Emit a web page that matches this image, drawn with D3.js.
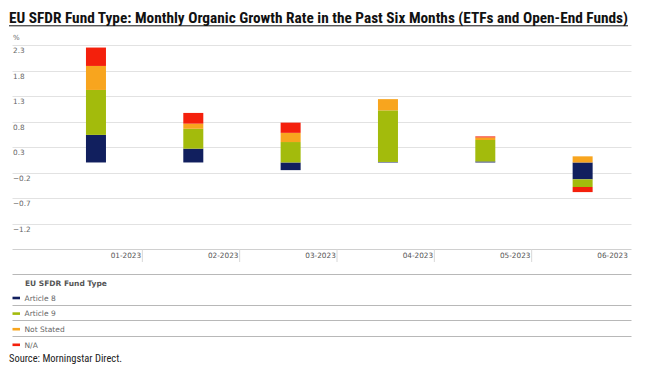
<!DOCTYPE html>
<html>
<head>
<meta charset="utf-8">
<script src="https://cdn.jsdelivr.net/npm/d3@7"></script>
<style>
  html, body { margin: 0; padding: 0; background: #fff; }
  svg { display: block; }
</style>
</head>
<body>
<svg id="chart"></svg>
<script>
// data
const months = ['01-2023', '02-2023', '03-2023', '04-2023', '05-2023', '06-2023'];
const seriesNames = ['Article 8', 'Article 9', 'Not Stated', 'N/A'];
const article8 = [0.54, 0.27, -0.15, 0.01, 0.02, -0.33];
const article9 = [0.88, 0.39, 0.40, 1.01, 0.42, -0.15];
const notStated = [0.47, 0.10, 0.18, 0.22, 0.05, 0.12];
const notAvail = [0.36, 0.21, 0.20, 0.00, 0.02, -0.10];
const yTicks = [2.3, 1.8, 1.3, 0.8, 0.3, -0.2, -0.7, -1.2];

const colors = ['#111f5e', '#a3bb0c', '#f8a51e', '#f4200c'];
const W = 648, H = 375;
const svg = d3.select('#chart').attr('width', W).attr('height', H);

const rows = months.map((m, i) => ({
  month: m,
  'Article 8': article8[i],
  'Article 9': article9[i],
  'Not Stated': notStated[i],
  'N/A': notAvail[i]
}));

const gridL = 12.5, gridR = 631.5;
const x = d3.scaleBand().domain(months).range([47.3, 631.3]);
const y = d3.scaleLinear().domain([-1.7, 2.3]).range([249.3, 45]);
const barW = 20;

// title
svg.append('text')
  .attr('x', 9).attr('y', 23)
  .attr('textLength', 619).attr('lengthAdjust', 'spacingAndGlyphs')
  .style('font-family', '"Liberation Sans Narrow","Roboto Condensed","DejaVu Sans Condensed",sans-serif')
  .style('font-weight', 'bold').style('font-size', '14px').style('fill', '#111')
  .text('EU SFDR Fund Type: Monthly Organic Growth Rate in the Past Six Months (ETFs and Open-End Funds)');
svg.append('line').attr('x1', 9).attr('x2', 628).attr('y1', 25.8).attr('y2', 25.8)
  .attr('stroke', '#111').attr('stroke-width', 1);

// % unit
svg.append('text').attr('x', 13).attr('y', 39.5)
  .style('font-family', '"DejaVu Sans",sans-serif').style('font-size', '7px').style('fill', '#666')
  .text('%');

// grid + y labels
const grid = svg.append('g');
yTicks.forEach(t => {
  grid.append('line').attr('x1', gridL).attr('x2', gridR)
    .attr('y1', Math.round(y(t)) + 0.5).attr('y2', Math.round(y(t)) + 0.5)
    .attr('stroke', '#e2e2e2');
  grid.append('text').attr('x', 13).attr('y', y(t) + 8)
    .style('font-family', '"DejaVu Sans",sans-serif').style('font-size', '7.3px').style('fill', '#666')
    .text(d3.format('.1f')(t));
});

// bars
const stack = d3.stack().keys(seriesNames).offset(d3.stackOffsetDiverging);
const layers = stack(rows);
svg.append('g').selectAll('g').data(layers).join('g')
  .attr('fill', (d, i) => colors[i])
  .selectAll('rect').data(d => d).join('rect')
  .attr('x', d => x(d.data.month) + x.bandwidth() / 2 - barW / 2)
  .attr('width', barW)
  .attr('y', d => y(Math.max(d[0], d[1])))
  .attr('height', d => Math.abs(y(d[0]) - y(d[1])));

// x axis
svg.append('line').attr('x1', gridL).attr('x2', gridR).attr('y1', 249.5).attr('y2', 249.5)
  .attr('stroke', '#d0d0d0');
months.forEach(m => {
  const r = x(m) + x.bandwidth();
  if (m !== months[months.length - 1]) {
    svg.append('line').attr('x1', r - 2.3).attr('x2', r - 2.3).attr('y1', 249.5).attr('y2', 262)
      .attr('stroke', '#d8d8d8');
  }
  svg.append('text').attr('x', r - 3.5).attr('y', 258)
    .attr('text-anchor', 'end')
    .style('font-family', '"DejaVu Sans",sans-serif').style('font-size', '7.3px').style('fill', '#555')
    .text(m);
});

// legend
svg.append('line').attr('x1', gridL).attr('x2', gridR).attr('y1', 274.5).attr('y2', 274.5)
  .attr('stroke', '#b8b8b8');
svg.append('text').attr('x', 25).attr('y', 286)
  .style('font-family', '"DejaVu Sans",sans-serif').style('font-weight', 'bold')
  .style('font-size', '7.5px').style('fill', '#555')
  .text('EU SFDR Fund Type');
seriesNames.forEach((s, i) => {
  const cy = 298 + i * 15.6;
  svg.append('rect').attr('x', 12.5).attr('y', cy - 1.3).attr('width', 7.5).attr('height', 2.6)
    .attr('fill', colors[i]);
  svg.append('text').attr('x', 24.5).attr('y', cy + 2.8)
    .style('font-family', '"DejaVu Sans",sans-serif').style('font-size', '7.5px').style('fill', '#666')
    .text(s);
  if (i < seriesNames.length - 1) {
    svg.append('line').attr('x1', gridL).attr('x2', gridR)
      .attr('y1', Math.round(cy + 6.5) + 0.5).attr('y2', Math.round(cy + 6.5) + 0.5)
      .attr('stroke', '#b8b8b8');
  }
});

// source
svg.append('text').attr('x', 9).attr('y', 362)
  .attr('textLength', 113).attr('lengthAdjust', 'spacingAndGlyphs')
  .style('font-family', '"Liberation Sans Narrow","Roboto Condensed","DejaVu Sans Condensed",sans-serif')
  .style('font-size', '10.5px').style('fill', '#222')
  .text('Source: Morningstar Direct.');
</script>
</body>
</html>
